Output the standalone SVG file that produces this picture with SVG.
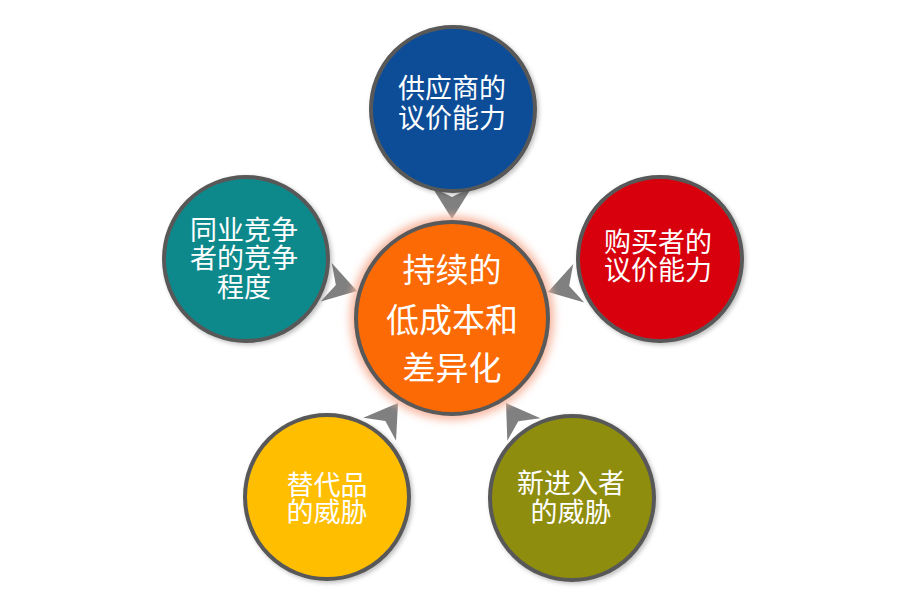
<svg xmlns="http://www.w3.org/2000/svg" width="900" height="601" viewBox="0 0 900 601">
<defs>
<style>
.node{stroke:#595959;stroke-width:4}
.lbl{font-family:"Noto Sans CJK SC","Noto Sans",sans-serif;fill:#ffffff;text-anchor:middle;font-size:27px}
.big{font-size:33px}
.arr{fill:#808080}
</style>
<filter id="glow" x="-20%" y="-20%" width="140%" height="140%">
<feGaussianBlur stdDeviation="4"/>
</filter>
<filter id="sh" x="-20%" y="-20%" width="140%" height="140%">
<feDropShadow dx="2" dy="2" stdDeviation="2" flood-color="#000" flood-opacity="0.25"/>
</filter>
<polygon id="head" points="0,0 -32,-20 -22,0 -32,20"/>
</defs>
<rect width="900" height="601" fill="#ffffff"/>
<g id="connectors">
<use href="#head" class="arr" transform="translate(452,219) rotate(90)"/>
<use href="#head" class="arr" transform="translate(357,291) rotate(16)"/>
<use href="#head" class="arr" transform="translate(548,292) rotate(164)"/>
<use href="#head" class="arr" transform="translate(398,403) rotate(-55)"/>
<use href="#head" class="arr" transform="translate(506,403) rotate(-124)"/>
</g>
<g id="center">
<circle cx="452" cy="318" r="102" fill="#f7b7a0" filter="url(#glow)"/>
<circle class="node" cx="452" cy="318" r="96" fill="#fb6a05"/>
<text class="lbl big" x="452" y="282">持续的</text>
<text class="lbl big" x="452" y="332">低成本和</text>
<text class="lbl big" x="452" y="380">差异化</text>
</g>
<g id="supplier">
<circle class="node" cx="453" cy="109" r="82" fill="#0a4d98" filter="url(#sh)"/>
<text class="lbl" x="452" y="98">供应商的</text>
<text class="lbl" x="452" y="128">议价能力</text>
</g>
<g id="competition">
<circle class="node" cx="246" cy="259" r="82" fill="#0e898b" filter="url(#sh)"/>
<text class="lbl" x="244" y="240">同业竞争</text>
<text class="lbl" x="244" y="268">者的竞争</text>
<text class="lbl" x="244" y="297">程度</text>
</g>
<g id="buyer">
<circle class="node" cx="660" cy="259" r="82" fill="#d8000e" filter="url(#sh)"/>
<text class="lbl" x="658" y="252">购买者的</text>
<text class="lbl" x="658" y="280">议价能力</text>
</g>
<g id="substitute">
<circle class="node" cx="327" cy="497" r="82" fill="#ffbe00" filter="url(#sh)"/>
<text class="lbl" x="327" y="495">替代品</text>
<text class="lbl" x="327" y="522">的威胁</text>
</g>
<g id="entrant">
<circle class="node" cx="572" cy="498" r="82" fill="#8f8d0e" filter="url(#sh)"/>
<text class="lbl" x="571" y="493">新进入者</text>
<text class="lbl" x="571" y="522">的威胁</text>
</g>
</svg>
